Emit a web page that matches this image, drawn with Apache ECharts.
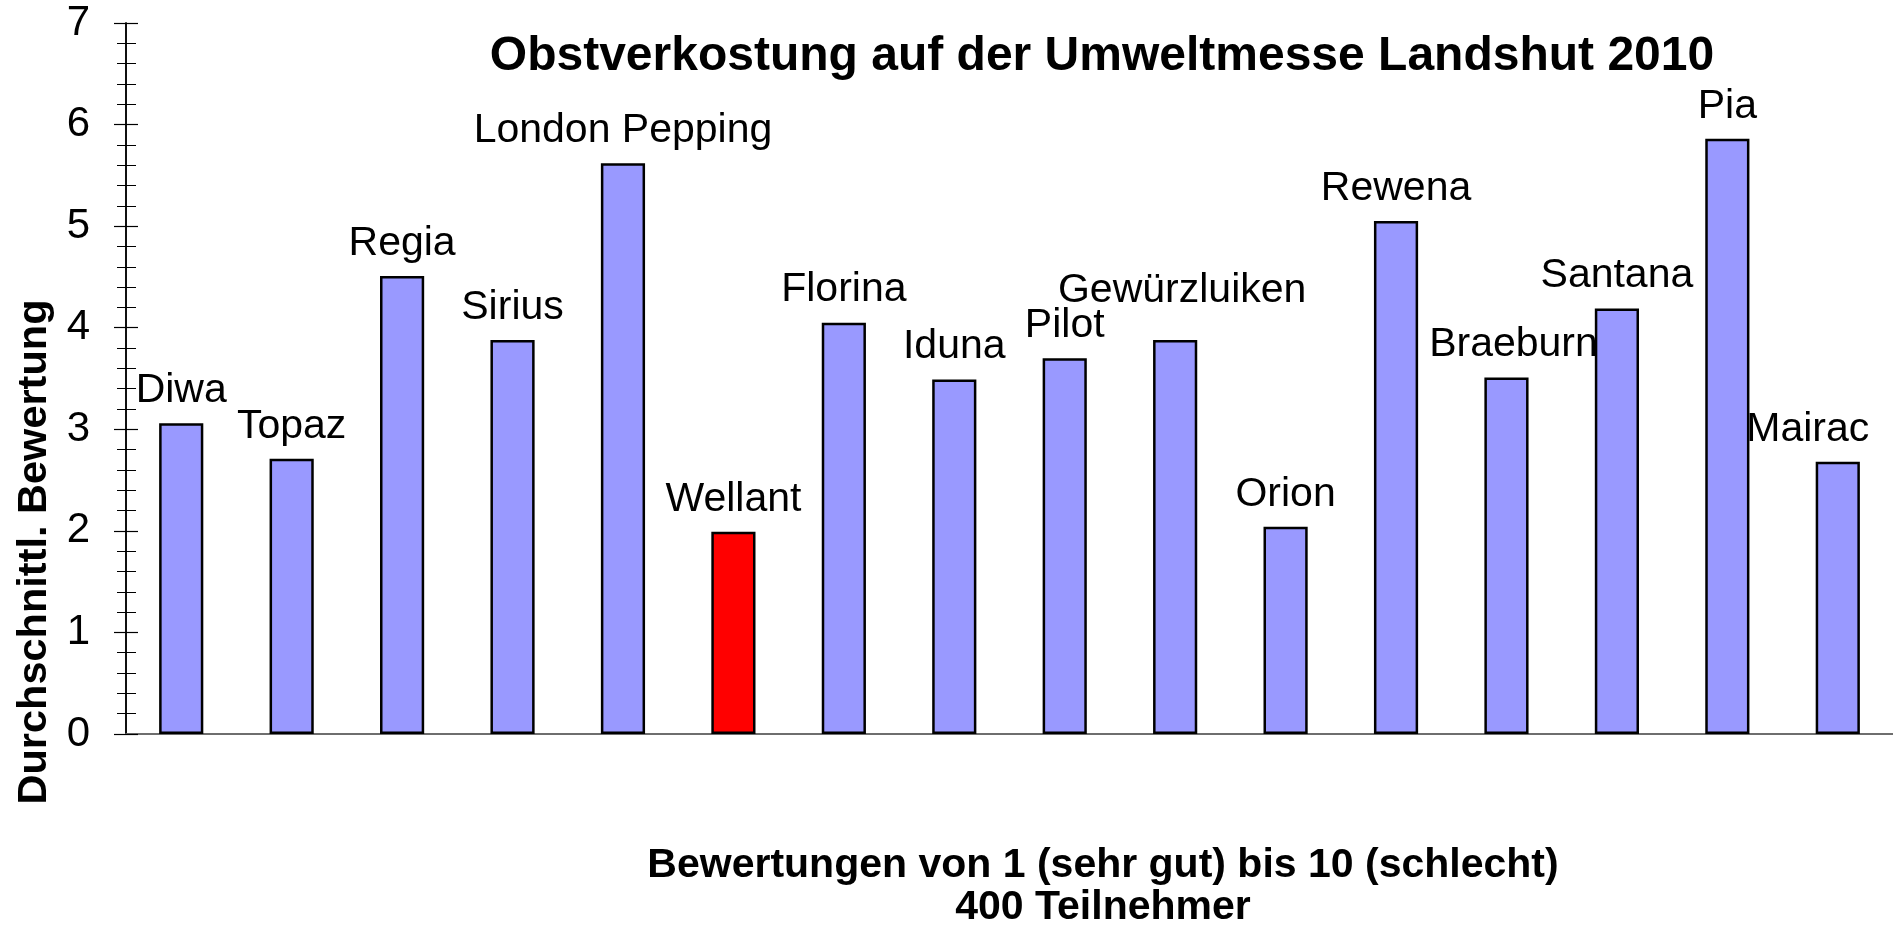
<!DOCTYPE html>
<html>
<head>
<meta charset="utf-8">
<script src="https://cdn.jsdelivr.net/npm/echarts@6/dist/echarts.min.js"></script>
<style>html,body{margin:0;padding:0;background:#fff;}#chart{width:1893px;height:926px;}</style>
</head>
<body>
<div id="chart"></div>
<script>
const categories = ['Diwa','Topaz','Regia','Sirius','London Pepping','Wellant','Florina','Iduna','Pilot','Gewürzluiken','Orion','Rewena','Braeburn','Santana','Pia','Mairac'];
const values = [3.06, 2.71, 4.51, 3.88, 5.62, 1.99, 4.05, 3.49, 3.70, 3.88, 2.04, 5.05, 3.51, 4.19, 5.86, 2.68];
const highlighted = ['Wellant'];
const yTicks = [0, 1, 2, 3, 4, 5, 6, 7];
const titleText = 'Obstverkostung auf der Umweltmesse Landshut 2010';
const yName = 'Durchschnittl. Bewertung';
const xName = 'Bewertungen von 1 (sehr gut) bis 10 (schlecht)\n400 Teilnehmer';

const FONT = '"Liberation Sans", Arial, sans-serif';
const labelOffsets = { 'Gewürzluiken': [7, -17], 'Braeburn': [7, 0], 'Mairac': [-30, 0] };

const chart = echarts.init(document.getElementById('chart'));
const barData = categories.map((c, i) => {
  const item = {
    value: values[i],
    itemStyle: { color: highlighted.includes(c) ? '#ff0000' : '#9999ff' }
  };
  if (labelOffsets[c]) item.label = { offset: labelOffsets[c] };
  return item;
});

const yMin = yTicks[0], yMax = yTicks[yTicks.length - 1];
chart.setOption({
  animation: false,
  backgroundColor: '#fff',
  grid: { left: 126, right: 0, top: 23, bottom: 192, containLabel: false },
  xAxis: [{
    type: 'category', data: categories, position: 'bottom',
    axisLine: { show: true, lineStyle: { color: '#666', width: 1.5 } },
    axisTick: { show: false }, axisLabel: { show: false }, splitLine: { show: false }
  }, {
    type: 'category', data: categories, position: 'top',
    axisLine: { show: true, lineStyle: { color: '#666', width: 1.5 } },
    axisTick: { show: false }, axisLabel: { show: false }
  }],
  yAxis: [{
    type: 'value', min: yMin, max: yMax, interval: 1,
    axisLine: { show: true, lineStyle: { color: '#000', width: 1.5 } },
    axisTick: { show: true, length: 12, lineStyle: { color: '#000', width: 1.2 } },
    minorTick: { show: true, splitNumber: 5, length: 9, lineStyle: { color: '#000', width: 1 } },
    axisLabel: { color: '#000', fontSize: 42, fontFamily: FONT, margin: 36 },
    splitLine: { show: false }
  }, {
    type: 'value', min: yMin, max: yMax, interval: 1, position: 'left', offset: 0,
    axisLine: { show: true, lineStyle: { color: '#000', width: 1.5 } },
    axisTick: { show: true, inside: true, length: 12, lineStyle: { color: '#000', width: 1.2 } },
    minorTick: { show: true, splitNumber: 5, length: 10, lineStyle: { color: '#000', width: 1 } },
    axisLabel: { show: false },
    splitLine: { show: false }
  }],
  series: [{
    type: 'bar',
    data: barData,
    barWidth: '40%',
    itemStyle: { borderColor: '#000', borderWidth: 2.5 },
    label: {
      show: true, position: 'top', distance: 12,
      formatter: p => p.name,
      color: '#000', fontSize: 41, fontFamily: FONT
    }
  }],
  graphic: [
    { type: 'text', x: 1102, y: 57, style: { text: titleText, fontSize: 48, fontWeight: 'bold', fontFamily: FONT, fill: '#000', align: 'center', verticalAlign: 'middle' } },
    { type: 'text', x: 35, y: 552, rotation: Math.PI / 2, style: { text: yName, fontSize: 41.5, fontWeight: 'bold', fontFamily: FONT, fill: '#000', align: 'center', verticalAlign: 'middle' } },
    { type: 'text', x: 1103, y: 887, style: { text: xName, fontSize: 41, fontWeight: 'bold', fontFamily: FONT, fill: '#000', align: 'center', verticalAlign: 'middle', lineHeight: 42 } }
  ]
});
</script>
</body>
</html>
